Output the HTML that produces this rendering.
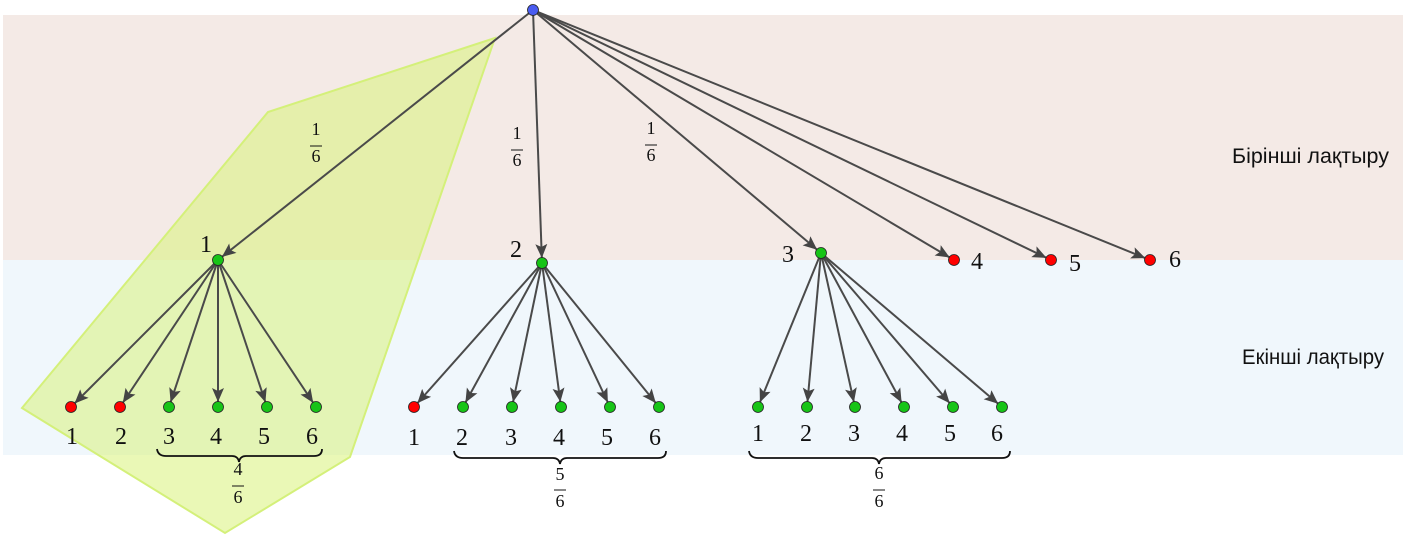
<!DOCTYPE html>
<html><head><meta charset="utf-8"><style>
html,body{margin:0;padding:0;background:#fff}
svg{display:block}
.m{font-family:"Liberation Serif",serif;font-size:24px;fill:#111}
.f{font-family:"Liberation Serif",serif;font-size:18px;fill:#111}
.t{font-family:"Liberation Sans",sans-serif;font-size:21px;fill:#111}
</style></head><body>
<svg width="1408" height="542" viewBox="0 0 1408 542" xmlns="http://www.w3.org/2000/svg">
<defs>
<marker id="a" markerUnits="userSpaceOnUse" markerWidth="24" markerHeight="14" refX="19" refY="6" orient="auto">
<path d="M0,0 L14,6 L0,12 L3,6 Z" fill="#444"/>
</marker>
</defs>
<rect x="3" y="15" width="1400" height="245" fill="#f4eae6"/>
<rect x="3" y="260" width="1400" height="195" fill="#f0f7fc"/>
<polygon points="22,408 225,533 350,457 495,38 268,112" fill="#d8f27a" fill-opacity="0.55" stroke="#d4f07a" stroke-width="2"/>
<g stroke="#4a4a4a" stroke-width="2" marker-end="url(#a)">
<line x1="533" y1="10" x2="218" y2="260"/>
<line x1="533" y1="10" x2="542" y2="263"/>
<line x1="533" y1="10" x2="821" y2="253"/>
<line x1="533" y1="10" x2="954" y2="260"/>
<line x1="533" y1="10" x2="1051" y2="260"/>
<line x1="533" y1="10" x2="1150" y2="260"/>
<line x1="218" y1="260" x2="71" y2="407"/><line x1="218" y1="260" x2="120" y2="407"/><line x1="218" y1="260" x2="169" y2="407"/><line x1="218" y1="260" x2="218" y2="407"/><line x1="218" y1="260" x2="267" y2="407"/><line x1="218" y1="260" x2="316" y2="407"/>
<line x1="542" y1="263" x2="414" y2="407"/><line x1="542" y1="263" x2="463" y2="407"/><line x1="542" y1="263" x2="512" y2="407"/><line x1="542" y1="263" x2="561" y2="407"/><line x1="542" y1="263" x2="610" y2="407"/><line x1="542" y1="263" x2="659" y2="407"/>
<line x1="821" y1="253" x2="758" y2="407"/><line x1="821" y1="253" x2="807" y2="407"/><line x1="821" y1="253" x2="855" y2="407"/><line x1="821" y1="253" x2="904" y2="407"/><line x1="821" y1="253" x2="953" y2="407"/><line x1="821" y1="253" x2="1002" y2="407"/>
</g>
<g stroke="#222" stroke-width="0.8">
<circle cx="533" cy="10" r="5.5" fill="#4a5cf0"/>
<circle cx="218" cy="260" r="5.5" fill="#17c417"/>
<circle cx="542" cy="263" r="5.5" fill="#17c417"/>
<circle cx="821" cy="253" r="5.5" fill="#17c417"/>
<circle cx="954" cy="260" r="5.5" fill="#f00"/>
<circle cx="1051" cy="260" r="5.5" fill="#f00"/>
<circle cx="1150" cy="260" r="5.5" fill="#f00"/>
<circle cx="71" cy="407" r="5.5" fill="#f00"/><circle cx="120" cy="407" r="5.5" fill="#f00"/><circle cx="169" cy="407" r="5.5" fill="#17c417"/><circle cx="218" cy="407" r="5.5" fill="#17c417"/><circle cx="267" cy="407" r="5.5" fill="#17c417"/><circle cx="316" cy="407" r="5.5" fill="#17c417"/>
<circle cx="414" cy="407" r="5.5" fill="#f00"/><circle cx="463" cy="407" r="5.5" fill="#17c417"/><circle cx="512" cy="407" r="5.5" fill="#17c417"/><circle cx="561" cy="407" r="5.5" fill="#17c417"/><circle cx="610" cy="407" r="5.5" fill="#17c417"/><circle cx="659" cy="407" r="5.5" fill="#17c417"/>
<circle cx="758" cy="407" r="5.5" fill="#17c417"/><circle cx="807" cy="407" r="5.5" fill="#17c417"/><circle cx="855" cy="407" r="5.5" fill="#17c417"/><circle cx="904" cy="407" r="5.5" fill="#17c417"/><circle cx="953" cy="407" r="5.5" fill="#17c417"/><circle cx="1002" cy="407" r="5.5" fill="#17c417"/>
</g>
<g class="m" text-anchor="middle">
<text x="206" y="252">1</text><text x="516" y="257">2</text><text x="788" y="262">3</text>
<text x="977" y="269">4</text><text x="1075" y="271">5</text><text x="1175" y="267">6</text>
<text x="72" y="444">1</text><text x="121" y="444">2</text><text x="169" y="444">3</text><text x="216" y="444">4</text><text x="264" y="444">5</text><text x="312" y="444">6</text>
<text x="414" y="445">1</text><text x="462" y="445">2</text><text x="511" y="445">3</text><text x="559" y="445">4</text><text x="607" y="445">5</text><text x="655" y="445">6</text>
<text x="758" y="441">1</text><text x="806" y="441">2</text><text x="854" y="441">3</text><text x="902" y="441">4</text><text x="950" y="441">5</text><text x="997" y="441">6</text>
</g>
<g class="f" text-anchor="middle">
<text x="316" y="135">1</text><text x="316" y="162">6</text>
<text x="517" y="139">1</text><text x="517" y="166">6</text>
<text x="651" y="134">1</text><text x="651" y="161">6</text>
<text x="238" y="475">4</text><text x="238" y="503">6</text>
<text x="560" y="480">5</text><text x="560" y="507">6</text>
<text x="879" y="479">6</text><text x="879" y="507">6</text>
</g>
<g stroke="#111" stroke-width="1">
<line x1="310" y1="146" x2="322" y2="146"/><line x1="511" y1="150" x2="523" y2="150"/><line x1="645" y1="145" x2="657" y2="145"/>
<line x1="232" y1="486" x2="244" y2="486"/><line x1="554" y1="490" x2="566" y2="490"/><line x1="873" y1="490" x2="885" y2="490"/>
</g>
<g fill="none" stroke="#111" stroke-width="1.8">
<path d="M157,449 Q158,456 166,456 L232,456 Q238,456 239,462 Q240,456 246,456 L314,456 Q322,456 322,449"/>
<path d="M454,451 Q455,458 463,458 L553,458 Q559,458 560,464 Q561,458 567,458 L658,458 Q666,458 666,451"/>
<path d="M749,451 Q750,458 758,458 L872,458 Q878,458 879,464 Q880,458 886,458 L1002,458 Q1010,458 1010,451"/>
</g>
<text class="t" x="1232" y="163" textLength="157" lengthAdjust="spacingAndGlyphs">Бірінші лақтыру</text>
<text class="t" x="1242" y="364" textLength="142" lengthAdjust="spacingAndGlyphs">Екінші лақтыру</text>
</svg>
</body></html>
